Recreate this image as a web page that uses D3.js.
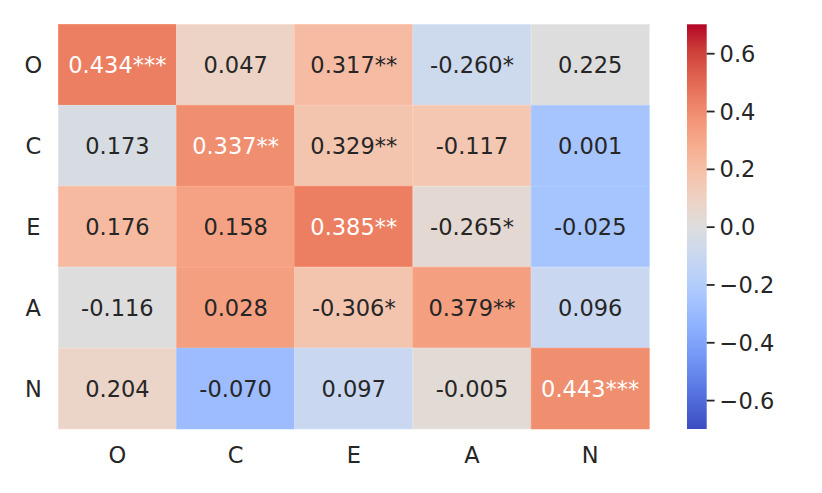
<!DOCTYPE html>
<html>
<head>
<meta charset="utf-8">
<script src="https://cdn.jsdelivr.net/npm/d3@7"></script>
<style>
  html, body { margin: 0; padding: 0; background: #fff; }
  text { font-family: "DejaVu Sans", sans-serif; }
</style>
</head>
<body>
<svg id="chart" width="822" height="493"></svg>
<script>
const rows = ['O', 'C', 'E', 'A', 'N'];
const cols = ['O', 'C', 'E', 'A', 'N'];

// colour values of the cells
const colourRowO = [0.44, 0.09, 0.21, -0.08, 0.0];
const colourRowC = [-0.03, 0.39, 0.17, 0.16, -0.25];
const colourRowE = [0.22, 0.32, 0.44, 0.04, -0.25];
const colourRowA = [0.0, 0.33, 0.17, 0.33, -0.1];
const colourRowN = [0.08, -0.29, -0.1, 0.03, 0.39];

// annotation text printed in each cell
const labelRowO = ['0.434***', '0.047', '0.317**', '-0.260*', '0.225'];
const labelRowC = ['0.173', '0.337**', '0.329**', '-0.117', '0.001'];
const labelRowE = ['0.176', '0.158', '0.385**', '-0.265*', '-0.025'];
const labelRowA = ['-0.116', '0.028', '-0.306*', '0.379**', '0.096'];
const labelRowN = ['0.204', '-0.070', '0.097', '-0.005', '0.443***'];

const colourbarTicks = [-0.6, -0.4, -0.2, 0.0, 0.2, 0.4, 0.6];

// matplotlib "coolwarm", sampled every 1/16
const coolwarm = [
  '#3b4cc0', '#4d68d7', '#6282ea', '#779af7', '#8db0fe', '#a3c2ff',
  '#b8d0f9', '#ccd9ee', '#dddddd', '#ecd3c6', '#f5c4ad', '#f7b194',
  '#f49a7b', '#ec7f63', '#de604d', '#cb3e38', '#b40426'
];

const colourRows = [colourRowO, colourRowC, colourRowE, colourRowA, colourRowN];
const labelRows = [labelRowO, labelRowC, labelRowE, labelRowA, labelRowN];

const cells = [];
rows.forEach((r, i) => cols.forEach((c, j) => {
  cells.push({ row: r, col: c, v: colourRows[i][j], label: labelRows[i][j] });
}));

const svg = d3.select('#chart');
const margin = { left: 58.3, top: 24.3, right: 172.7, bottom: 64 };
const W = 822 - margin.left - margin.right;
const H = 493 - margin.top - margin.bottom;
const INK = '#262626';
const FS = 22.5;

const vmin = -0.7, vmax = 0.7;
const colour = d3.scaleLinear()
  .domain(d3.range(coolwarm.length).map(k => vmin + (vmax - vmin) * k / (coolwarm.length - 1)))
  .range(coolwarm)
  .interpolate(d3.interpolateRgb)
  .clamp(true);

const x = d3.scaleBand().domain(cols).range([0, W]);
const y = d3.scaleBand().domain(rows).range([0, H]);

const g = svg.append('g').attr('transform', `translate(${margin.left},${margin.top})`);

// seaborn picks white or dark text from the cell luminance
function textColour(v) {
  const c = d3.rgb(colour(v));
  const lin = u => { u /= 255; return u <= 0.03928 ? u / 12.92 : Math.pow((u + 0.055) / 1.055, 2.4); };
  const lum = 0.2126 * lin(c.r) + 0.7152 * lin(c.g) + 0.0722 * lin(c.b);
  return lum > 0.408 ? INK : '#ffffff';
}

g.selectAll('rect.cell')
  .data(cells)
  .enter()
  .append('rect')
  .classed('cell', true)
  .attr('x', d => x(d.col))
  .attr('y', d => y(d.row))
  .attr('width', x.bandwidth())
  .attr('height', y.bandwidth())
  .attr('fill', d => colour(d.v))
  .attr('stroke', d => d3.rgb(colour(d.v)).brighter(0.15))
  .attr('stroke-width', 0.6);

g.selectAll('text.annot')
  .data(cells)
  .enter()
  .append('text')
  .classed('annot', true)
  .attr('x', d => x(d.col) + x.bandwidth() / 2)
  .attr('y', d => y(d.row) + y.bandwidth() / 2)
  .attr('dy', '0.36em')
  .attr('text-anchor', 'middle')
  .attr('font-size', FS)
  .attr('fill', d => textColour(d.v))
  .text(d => d.label);

// row labels
g.selectAll('text.ylab')
  .data(rows)
  .enter()
  .append('text')
  .classed('ylab', true)
  .attr('x', -25)
  .attr('y', d => y(d) + y.bandwidth() / 2)
  .attr('dy', '0.36em')
  .attr('text-anchor', 'middle')
  .attr('font-size', FS)
  .attr('fill', INK)
  .text(d => d);

// column labels
g.selectAll('text.xlab')
  .data(cols)
  .enter()
  .append('text')
  .classed('xlab', true)
  .attr('x', d => x(d) + x.bandwidth() / 2)
  .attr('y', H + 26)
  .attr('dy', '0.36em')
  .attr('text-anchor', 'middle')
  .attr('font-size', FS)
  .attr('fill', INK)
  .text(d => d);

// colour bar
const cbX = 687, cbW = 19.7;
const cbScale = d3.scaleLinear().domain([vmin, vmax]).range([margin.top + H, margin.top]);

const defs = svg.append('defs');
const grad = defs.append('linearGradient')
  .attr('id', 'cbgrad')
  .attr('x1', 0).attr('y1', 1).attr('x2', 0).attr('y2', 0);
grad.selectAll('stop')
  .data(coolwarm)
  .enter()
  .append('stop')
  .attr('offset', (d, k) => k / (coolwarm.length - 1))
  .attr('stop-color', d => d);

svg.append('rect')
  .attr('x', cbX)
  .attr('y', margin.top)
  .attr('width', cbW)
  .attr('height', H)
  .attr('fill', 'url(#cbgrad)');

const cbAxis = d3.axisRight(cbScale)
  .tickValues(colourbarTicks)
  .tickSize(7.9)
  .tickPadding(5)
  .tickFormat(v => d3.format('.1f')(v).replace('-', '\u2212'));

const cbG = svg.append('g')
  .attr('transform', `translate(${cbX + cbW},0)`)
  .call(cbAxis);
cbG.select('.domain').remove();
cbG.selectAll('.tick line').attr('stroke', INK).attr('stroke-width', 1.8);
cbG.selectAll('.tick text')
  .attr('font-size', FS)
  .attr('font-family', '"DejaVu Sans", sans-serif')
  .attr('fill', INK)
  .attr('dy', '0.36em');
</script>
</body>
</html>
